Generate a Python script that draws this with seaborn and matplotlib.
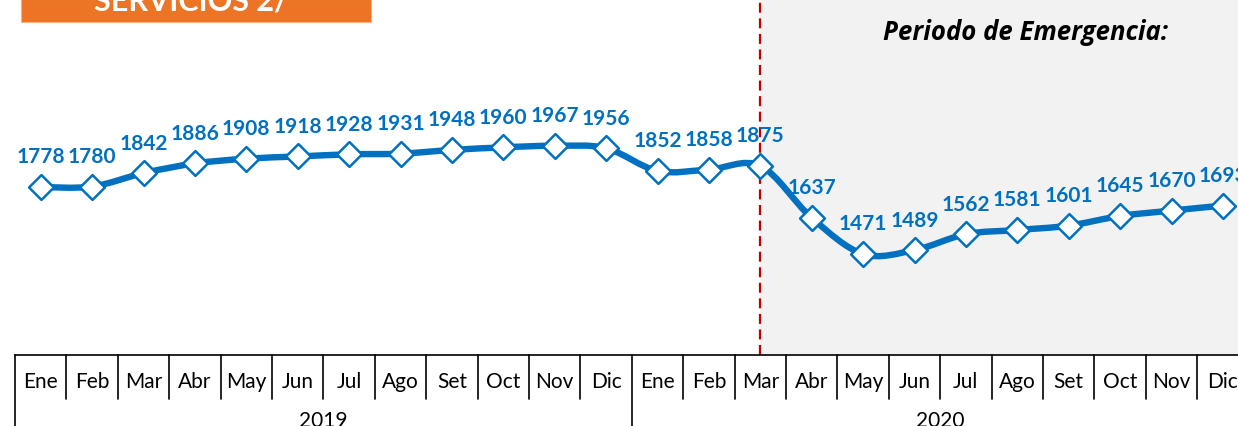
import numpy as np
import pandas as pd
import matplotlib
matplotlib.use("Agg")
import matplotlib.pyplot as plt
from matplotlib.path import Path
from matplotlib.patches import PathPatch, Rectangle
import matplotlib.transforms as mtransforms
import seaborn as sns

# Data
months = ["Ene", "Feb", "Mar", "Abr", "May", "Jun", "Jul", "Ago", "Set", "Oct", "Nov", "Dic"]
years = ["2019", "2020"]
values_2019 = [1778, 1780, 1842, 1886, 1908, 1918, 1928, 1931, 1948, 1960, 1967, 1956]
values_2020 = [1852, 1858, 1875, 1637, 1471, 1489, 1562, 1581, 1601, 1645, 1670, 1693]
emergency_start = 14  # Mar 2020

df = pd.DataFrame({
    "idx": np.arange(24),
    "mes": months * 2,
    "valor": values_2019 + values_2020,
})

BLUE = "#0070C0"
W, H = 1238, 427

sns.set_style("white")
plt.rcParams["font.family"] = ["Lato", "DejaVu Sans"]

fig = plt.figure(figsize=(W / 100, H / 100), dpi=100)
# axes from x=15px to right edge, y=0 to 356px (from top)
ax = fig.add_axes([15 / W, 1 - 356 / H, 1 - 15 / W, 356 / H])
ax.set_xlim(-0.5, -0.5 + (W - 15) / 51.4)
ax.set_ylim(1008, 2640)

# emergency period shading and marker line
ax.axvspan(emergency_start, 30, color="#f2f2f2", zorder=0, lw=0)
ax.axvline(emergency_start, color="#C00000", lw=1.6, ls=(0, (4.5, 2.5)), zorder=1)
fig.text(1026 / W, 1 - 33 / H, "Periodo de Emergencia:", ha="center", va="center",
         fontsize=18.5, fontweight="bold", fontstyle="italic", color="black",
         family=["Open Sans", "DejaVu Sans"])

# smoothed line (Excel-style bezier through the points)
x = df["idx"].to_numpy(dtype=float)
y = df["valor"].to_numpy(dtype=float)
verts = [(x[0], y[0])]
codes = [Path.MOVETO]
n = len(x)
for i in range(n - 1):
    p0 = np.array([x[max(i - 1, 0)], y[max(i - 1, 0)]])
    p1 = np.array([x[i], y[i]])
    p2 = np.array([x[i + 1], y[i + 1]])
    p3 = np.array([x[min(i + 2, n - 1)], y[min(i + 2, n - 1)]])
    c1 = p1 + (p2 - p0) / 6
    c2 = p2 - (p3 - p1) / 6
    verts += [tuple(c1), tuple(c2), tuple(p2)]
    codes += [Path.CURVE4] * 3
ax.add_patch(PathPatch(Path(verts, codes), facecolor="none", edgecolor=BLUE,
                       lw=4.6, capstyle="round", joinstyle="round", zorder=2))

sns.scatterplot(data=df, x="idx", y="valor", marker="D", s=160, color="white",
                edgecolor=BLUE, linewidth=1.8, zorder=3, ax=ax, clip_on=False)

for xi, yi in zip(x, y):
    ax.annotate(f"{int(yi)}", (xi, yi), xytext=(0, 22), textcoords="offset points",
                ha="center", va="center", fontsize=15, fontweight="bold", color=BLUE)

ax.set_xlabel("")
ax.set_ylabel("")
ax.set_xticks([])
ax.set_yticks([])
for s in ["top", "left", "right"]:
    ax.spines[s].set_visible(False)
ax.spines["bottom"].set_color("black")
ax.spines["bottom"].set_linewidth(1.2)

# category table below the axis
tr = mtransforms.blended_transform_factory(ax.transData, fig.transFigure)
y_top = 1 - 356 / H
y_sep = 1 - 400 / H
for i, m in enumerate(df["mes"]):
    ax.text(i, 1 - 382 / H, m, transform=tr, ha="center", va="center",
            fontsize=15, color="black", clip_on=False)
for i in range(24):
    bottom = 0 if i % 12 == 0 else y_sep
    ax.plot([i - 0.5, i - 0.5], [y_top, bottom], transform=tr, color="black",
            lw=1.2, clip_on=False)
for k, yr in enumerate(years):
    ax.text(12 * k + 5.5, 1 - 421 / H, yr, transform=tr, ha="center", va="center",
            fontsize=15, color="black", clip_on=False)

# orange title box (cut off at top)
fig.patches.append(Rectangle((21 / W, 1 - 23 / H), 350 / W, 23 / H, transform=fig.transFigure,
                             facecolor="#EC7424", edgecolor="#F4B183", lw=0.8))
fig.text(191 / W, 1 - 10 / H, "SERVICIOS 2/", ha="center", va="baseline",
         fontsize=22, fontweight="bold", color="white")

fig.savefig("out.png", dpi=100)
